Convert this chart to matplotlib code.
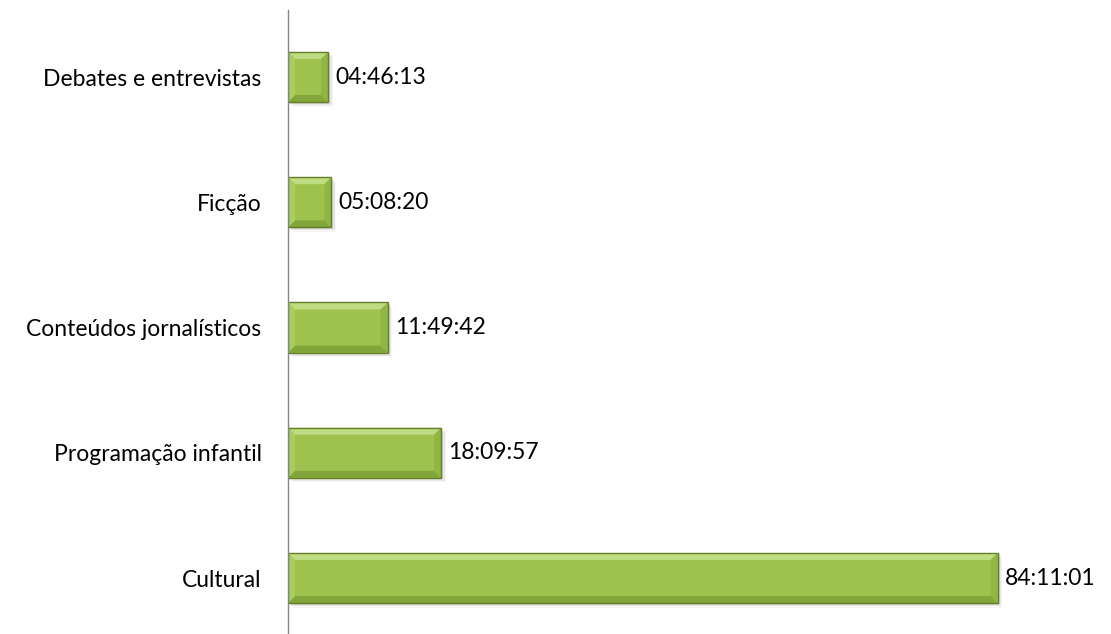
import matplotlib.pyplot as plt
from matplotlib.patches import Rectangle, Polygon
import numpy as np

categories = ['Cultural', 'Programação infantil', 'Conteúdos jornalísticos',
              'Ficção', 'Debates e entrevistas']
labels = ['84:11:01', '18:09:57', '11:49:42', '05:08:20', '04:46:13']


def to_hours(s):
    h, m, sec = (int(p) for p in s.split(':'))
    return h + m / 60 + sec / 3600


values = [to_hours(s) for s in labels]

plt.rcParams['font.family'] = ['Lato', 'DejaVu Sans']

fig = plt.figure(figsize=(11.11, 6.34), dpi=100)
ax = fig.add_axes([288 / 1111, 0, 1 - 288 / 1111, 1 - 10 / 634])
ax.set_xlim(0, 823 / 8.43)
ax.set_ylim(-0.447, 4.535)

bar_h = 0.4
bx = 7 / 8.43      # bevel width in data units (x)
by = 7 / 125.3     # bevel width in data units (y)
face = '#9fc24f'

for i, v in enumerate(values):
    y0, y1 = i - bar_h / 2, i + bar_h / 2
    # soft shadow
    for k, a in enumerate([0.09, 0.06, 0.035]):
        ax.add_patch(Rectangle((0.25 + k * 0.15, y0 - 0.012 * (k + 1)), v, bar_h,
                               facecolor='black', alpha=a, lw=0, zorder=1))
    ax.add_patch(Rectangle((0, y0), v, bar_h, facecolor=face, lw=0, zorder=2))
    ix0, ix1 = min(bx, v / 3), v - min(bx, v / 3)
    iy0, iy1 = y0 + by, y1 - by
    # bevel faces: top light, bottom dark, left light, right darker
    ax.add_patch(Polygon([(0, y1), (v, y1), (ix1, iy1), (ix0, iy1)],
                         facecolor='#bfdc82', lw=0, zorder=3))
    ax.add_patch(Polygon([(0, y0), (v, y0), (ix1, iy0), (ix0, iy0)],
                         facecolor='#82a639', lw=0, zorder=3))
    ax.add_patch(Polygon([(0, y0), (0, y1), (ix0, iy1), (ix0, iy0)],
                         facecolor='#aacd62', lw=0, zorder=3))
    ax.add_patch(Polygon([(v, y0), (v, y1), (ix1, iy1), (ix1, iy0)],
                         facecolor='#91b645', lw=0, zorder=3))
    ax.add_patch(Rectangle((0, y0), v, bar_h, facecolor='none',
                           edgecolor='#647f26', lw=1.0, zorder=4))
    ax.text(v + 0.85, i, labels[i], ha='left', va='center',
            fontsize=16.5, color='black', zorder=5)

ax.set_yticks(range(len(categories)))
ax.set_yticklabels(categories, fontsize=16.5)
ax.tick_params(axis='y', length=0, pad=19)
ax.set_xticks([])
for s in ['top', 'right', 'bottom']:
    ax.spines[s].set_visible(False)
ax.spines['left'].set_color('#868686')
ax.spines['left'].set_linewidth(1.0)
ax.spines['left'].set_zorder(6)

fig.savefig('out.png', dpi=100)
